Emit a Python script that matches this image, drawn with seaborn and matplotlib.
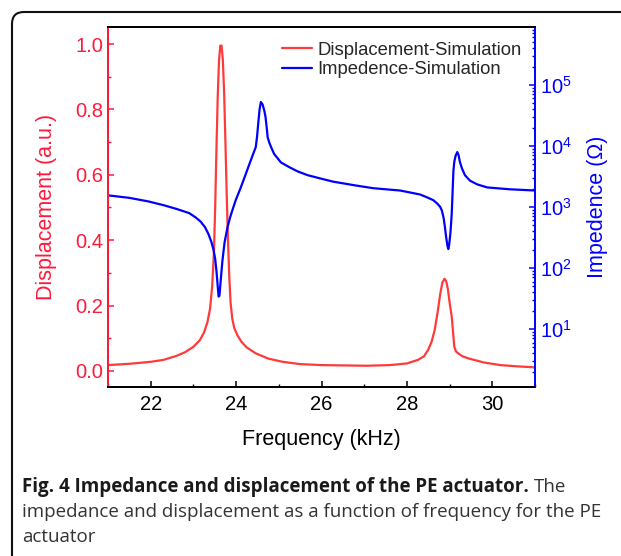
import numpy as np
import pandas as pd
import seaborn as sns
import matplotlib.pyplot as plt
from matplotlib.patches import FancyBboxPatch
from matplotlib.transforms import IdentityTransform
from matplotlib.ticker import MultipleLocator, LogLocator, NullFormatter

# displacement simulation (normalised)
disp_freq = [21.0, 21.5, 22.0, 22.3, 22.6, 22.8, 23.0, 23.15, 23.25, 23.33, 23.39, 23.44,
             23.48, 23.51, 23.54, 23.57, 23.60, 23.63, 23.66, 23.69, 23.72, 23.75, 23.78,
             23.81, 23.84, 23.87, 23.91, 23.96, 24.03, 24.12, 24.25, 24.46, 24.75, 25.09,
             25.5, 26.0, 27.05, 27.6, 28.0, 28.26, 28.40, 28.50, 28.58, 28.65, 28.72, 28.78,
             28.83, 28.88, 28.92, 28.96, 29.0, 29.05, 29.08, 29.11, 29.15, 29.2, 29.3, 29.45,
             29.6, 29.8, 30.19, 30.6, 31.0]
disp_val = [0.018, 0.022, 0.028, 0.034, 0.046, 0.057, 0.074, 0.094, 0.118, 0.15, 0.19, 0.26,
            0.36, 0.50, 0.68, 0.84, 0.95, 0.995, 0.995, 0.95, 0.85, 0.70, 0.54,
            0.40, 0.29, 0.21, 0.16, 0.13, 0.11, 0.09, 0.072, 0.054, 0.038, 0.028,
            0.021, 0.018, 0.016, 0.018, 0.023, 0.034, 0.045, 0.065, 0.09, 0.125, 0.18, 0.235,
            0.27, 0.282, 0.275, 0.25, 0.21, 0.166, 0.12, 0.074, 0.060, 0.054, 0.045, 0.038,
            0.033, 0.026, 0.018, 0.014, 0.011]

# impedance simulation (ohm)
imp_freq = [21.0, 21.5, 21.95, 22.3, 22.6, 22.9, 23.05, 23.17, 23.27, 23.35, 23.42, 23.47,
            23.51, 23.54, 23.57, 23.59, 23.61, 23.64, 23.68, 23.73, 23.80, 23.86, 23.91, 23.99,
            24.1, 24.2, 24.3, 24.4, 24.46, 24.49, 24.52, 24.55, 24.58, 24.62, 24.66, 24.69,
            24.72, 24.74, 24.78, 24.82, 24.89, 25.05, 25.25, 25.45, 25.68, 26.0, 26.27, 26.8,
            27.21, 27.84, 28.31, 28.5, 28.62, 28.72, 28.78, 28.82, 28.86, 28.89, 28.92, 28.95,
            28.97, 28.99, 29.02, 29.05, 29.07, 29.09, 29.11, 29.14, 29.18, 29.21, 29.24, 29.29,
            29.36, 29.48, 29.65, 29.88, 30.4, 31.0]
imp_val = [1550, 1410, 1230, 1070, 930, 794, 676, 575, 468, 363, 269, 200,
           141, 89, 50, 34, 35, 63, 132, 263, 468, 676, 871, 1290,
           2000, 3090, 4790, 7410, 9550, 14100, 24000, 39800, 52500, 47900, 38000, 29500,
           19000, 13800, 11200, 9550, 7400, 5370, 4470, 3800, 3310, 2900, 2600, 2250,
           2030, 1860, 1600, 1410, 1290, 1120, 1000, 870, 660, 470, 316, 230,
           204, 240, 380, 780, 1780, 3980, 5500, 6900, 7940, 7080, 5500, 4270,
           3310, 2690, 2340, 2090, 1950, 1860]

red = '#ff3a3a'
red_txt = '#ff1a3c'
blue = '#0000ff'

sns.set_style('ticks')
plt.rcParams['font.family'] = ['Liberation Sans', 'DejaVu Sans']

fig = plt.figure(figsize=(6.21, 5.56), dpi=100)
ax = fig.add_axes([108 / 621, 1 - 387 / 556, 427 / 621, 360 / 556])
ax2 = ax.twinx()

sns.lineplot(x=disp_freq, y=disp_val, ax=ax, color=red, lw=1.6, sort=False,
             label='Displacement-Simulation', legend=False)
sns.lineplot(x=imp_freq, y=imp_val, ax=ax2, color=blue, lw=1.6, sort=False,
             label='Impedence-Simulation', legend=False)
for ln in ax.lines + ax2.lines:
    ln.set_solid_joinstyle('round')

ax.set_xlim(21, 31)
ax.set_ylim(-0.049, 1.052)
ax2.set_yscale('log')
ax2.set_ylim(1.12, 8.9e5)

ax.xaxis.set_major_locator(MultipleLocator(2))
ax.xaxis.set_minor_locator(MultipleLocator(1))
ax.yaxis.set_major_locator(MultipleLocator(0.2))
ax.yaxis.set_minor_locator(MultipleLocator(0.1))
ax2.yaxis.set_major_locator(LogLocator(base=10, numticks=10))
ax2.yaxis.set_minor_locator(LogLocator(base=10, subs=np.arange(2, 10), numticks=20))
ax2.yaxis.set_minor_formatter(NullFormatter())

for a in (ax, ax2):
    for s in a.spines.values():
        s.set_linewidth(1.4)
        s.set_color('black')
    a.tick_params(which='major', direction='in', length=4.5, width=1.1, labelsize=14.5)
    a.tick_params(which='minor', direction='in', length=2.5, width=1.0)
ax2.spines['left'].set_color(red_txt)
ax2.spines['right'].set_color(blue)
ax.spines['left'].set_color(red_txt)
ax.spines['right'].set_visible(False)
ax.tick_params(axis='y', which='both', colors=red_txt)
ax2.tick_params(axis='y', which='both', colors=blue)
ax.tick_params(axis='x', which='both', top=False, colors='black')
ax.tick_params(axis='x', which='major', pad=6)

ax.set_xlabel('Frequency (kHz)', fontsize=15.5, color='black')
ax.set_ylabel('Displacement (a.u.)', fontsize=15.5, color=red_txt)
ax2.set_ylabel('Impedence (\u03a9)', fontsize=15.5, color=blue)
ax.xaxis.set_label_coords(0.5, -0.118)
ax.yaxis.set_label_coords(-0.12, 0.5)
ax2.yaxis.set_label_coords(1.121, 0.5)

h1, l1 = ax.get_legend_handles_labels()
h2, l2 = ax2.get_legend_handles_labels()
ax2.legend(h1 + h2, l1 + l2, loc='upper right', bbox_to_anchor=(0.995, 0.99), frameon=False,
           fontsize=13.3, handlelength=1.6, handletextpad=0.3, labelspacing=0.15, borderaxespad=0.2)

# rounded panel frame
frame = FancyBboxPatch((12, -40), 660, 544 + 40, boxstyle='round,pad=0,rounding_size=12',
                       transform=IdentityTransform(), fill=False, edgecolor='#111111', lw=1.5)
fig.patches.append(frame)

# caption
cap_font = ['Open Sans', 'DejaVu Sans']
r = fig.canvas.get_renderer()
t1 = fig.text(22 / 621, 1 - 487 / 556, 'Fig. 4 Impedance and displacement of the PE actuator.',
              fontsize=13.5, fontweight='bold', family=cap_font, va='center', color='#1a1a1a')
bb = t1.get_window_extent(r)
fig.text((bb.x1 + 5) / 621, 1 - 487 / 556, 'The', fontsize=13.5, family=cap_font, va='center', color='#333333')
fig.text(22 / 621, 1 - 512 / 556, 'impedance and displacement as a function of frequency for the PE',
         fontsize=13.5, family=cap_font, va='center', color='#333333')
fig.text(22 / 621, 1 - 537 / 556, 'actuator', fontsize=13.5, family=cap_font, va='center', color='#333333')

fig.savefig('out.png', dpi=100)
